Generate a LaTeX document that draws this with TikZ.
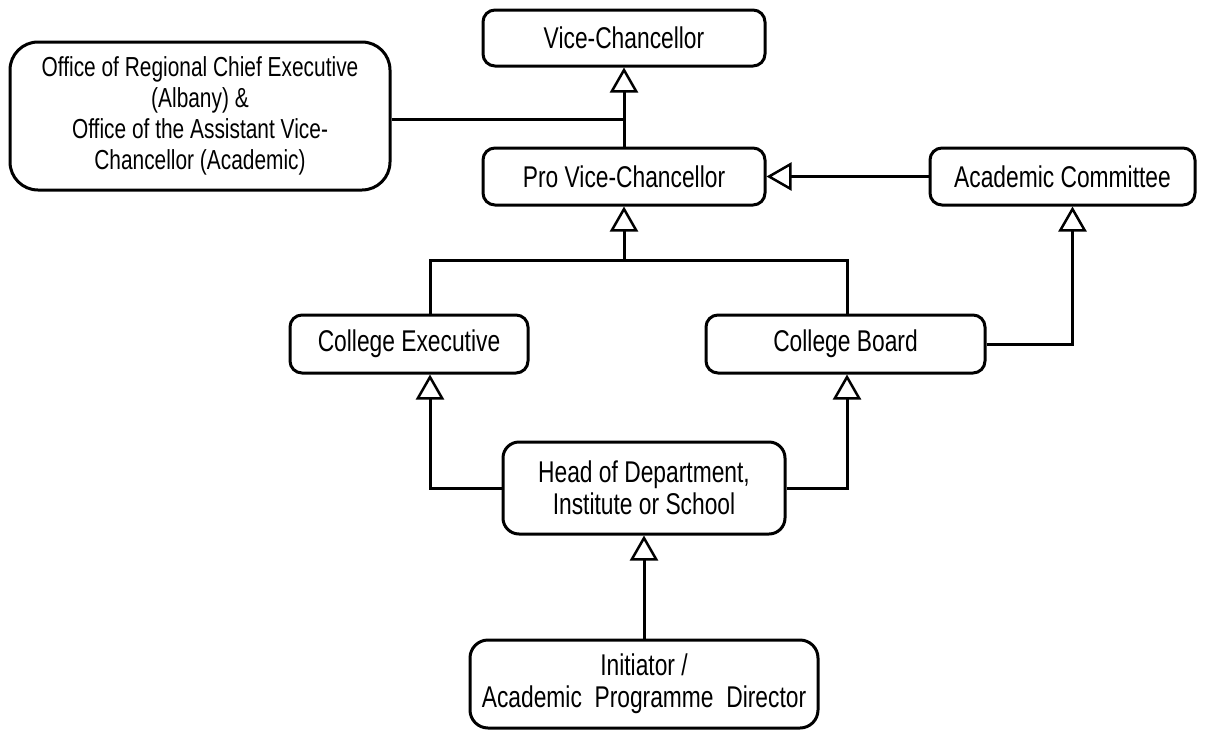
\documentclass[tikz,border=0pt]{standalone}
\usepackage{fontspec}
\setmainfont{Liberation Sans}[FakeStretch=0.76]
\usetikzlibrary{arrows.meta}
\begin{document}
\begin{tikzpicture}[x=1pt,y=-1pt,
  box/.style={draw,line width=3pt,rounded corners=12pt,inner sep=0pt,align=center,
    font=\fontsize{30}{32}\selectfont},
  conn/.style={line width=3pt},
  arr/.style={conn,-{Triangle[open,width=28pt,length=25pt,line width=2.5pt]}}]
\useasboundingbox (0,0) rectangle (1208,734);
\node[box,minimum width=282pt,minimum height=56pt] (vc) at (624,38) {Vice-Chancellor};
\node[box,rounded corners=28pt,minimum width=380pt,minimum height=148pt,
  font=\fontsize{27.5}{31}\selectfont] (off) at (200,116)
  {Office of Regional Chief Executive\\(Albany) \&\\Office of the Assistant Vice-\\Chancellor (Academic)};
\node[box,minimum width=282pt,minimum height=57pt] (pvc) at (624,176.5) {Pro Vice-Chancellor};
\node[box,minimum width=265pt,minimum height=57pt] (ac) at (1062.5,176.5) {Academic Committee};
\node[box,minimum width=238pt,minimum height=58pt] (ce) at (409,344) {College Executive};
\node[box,minimum width=279pt,minimum height=58pt] (cb) at (845.5,344) {College Board};
\node[box,rounded corners=16pt,minimum width=282pt,minimum height=92pt] (hd) at (644,488)
  {Head of Department,\\Institute or School};
\node[box,rounded corners=18pt,minimum width=348pt,minimum height=88pt] (ini) at (644,684)
  {Initiator /\\Academic\ \ Programme\ \ Director};
\coordinate (jl) at (430,260);
\coordinate (jr) at (847,260);
\draw[arr] (pvc.north) -- (vc.south);
\draw[conn] ([yshift=-3pt]off.east) -- ([yshift=-3pt]off.east -| pvc.north);
\draw[arr] (ac.west) -- (pvc.east);
\draw[conn] (jl |- ce.north) -- (jl) -- (jr) -- (jr |- cb.north);
\draw[arr] (jl -| pvc.south) -- (pvc.south);
\draw[arr] (cb.east) -| ([xshift=10pt]ac.south);
\draw[arr] (hd.west) -| (jl |- ce.south);
\draw[arr] (hd.east) -| (jr |- cb.south);
\draw[arr] (ini.north) -- (hd.south);
\end{tikzpicture}
\end{document}
